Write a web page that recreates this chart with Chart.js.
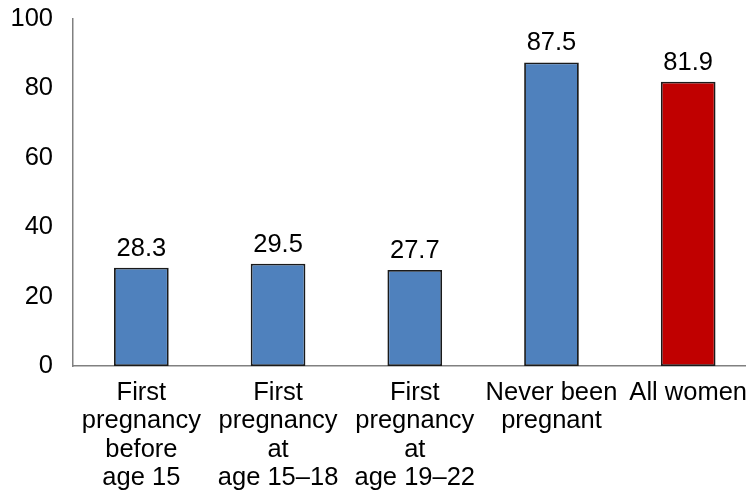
<!DOCTYPE html>
<html>
<head>
<meta charset="utf-8">
<script src="https://cdn.jsdelivr.net/npm/chart.js@4/dist/chart.umd.min.js"></script>
<style>
  html, body { margin: 0; padding: 0; background: #fff; overflow: hidden; }
  #wrap { position: relative; width: 760px; height: 497px; }
</style>
</head>
<body>
<div id="wrap"><canvas id="chart"></canvas></div>
<script>
// Categories (multi-line labels) and percentages
const categories = [
  ['First', 'pregnancy', 'before', 'age 15'],
  ['First', 'pregnancy', 'at', 'age 15\u201318'],
  ['First', 'pregnancy', 'at', 'age 19\u201322'],
  ['Never been', 'pregnant'],
  ['All women']
];
const values = [28.3, 29.5, 27.7, 87.5, 81.9];
const yTicks = [0, 20, 40, 60, 80, 100];

const BLUE = '#4f81bd';
const RED = '#c00000';
const barColors = values.map((v, i) => i === values.length - 1 ? RED : BLUE);

const FONT = '"Liberation Sans", Arial, sans-serif';
const FONT_SIZE = 25.5;

// Writes each bar's value above it
const valueLabels = {
  id: 'valueLabels',
  afterDatasetsDraw(chart) {
    const ctx = chart.ctx;
    const meta = chart.getDatasetMeta(0);
    ctx.save();
    ctx.font = FONT_SIZE + 'px ' + FONT;
    ctx.fillStyle = '#000';
    ctx.textAlign = 'center';
    ctx.textBaseline = 'alphabetic';
    meta.data.forEach((bar, i) => {
      ctx.fillText(values[i].toFixed(1), bar.x, bar.y - 12);
    });
    ctx.restore();
  }
};

new Chart(document.getElementById('chart'), {
  type: 'bar',
  data: {
    labels: categories,
    datasets: [{
      data: values,
      backgroundColor: barColors,
      borderColor: '#1a1a1a',
      borderWidth: 1.8,
      borderSkipped: false,
      barPercentage: 0.4,
      categoryPercentage: 1.0
    }]
  },
  options: {
    responsive: true,
    maintainAspectRatio: false,
    animation: false,
    layout: { padding: { top: 19, right: 0, bottom: 0, left: 0 } },
    plugins: {
      legend: { display: false },
      tooltip: { enabled: false }
    },
    scales: {
      x: {
        grid: { display: false, drawTicks: false },
        border: { display: true, color: '#808080', width: 1.5 },
        ticks: {
          color: '#000',
          padding: 13,
          maxRotation: 0,
          autoSkip: false,
          font: { family: FONT, size: FONT_SIZE, lineHeight: 1.11 }
        },
        afterFit(scale) {
          scale.height = 131;
          scale.paddingTop = 0;
          scale.paddingBottom = 0;
        }
      },
      y: {
        min: 0,
        max: 100,
        afterBuildTicks(scale) { scale.ticks = yTicks.map(v => ({ value: v })); },
        grid: { display: false, drawTicks: false },
        border: { display: true, color: '#808080', width: 1.5 },
        ticks: {
          color: '#000',
          padding: 20,
          font: { family: FONT, size: FONT_SIZE }
        },
        afterFit(scale) {
          scale.width = 73;
          scale.paddingTop = 0;
          scale.paddingBottom = 0;
        }
      }
    }
  },
  plugins: [valueLabels]
});
</script>
</body>
</html>
